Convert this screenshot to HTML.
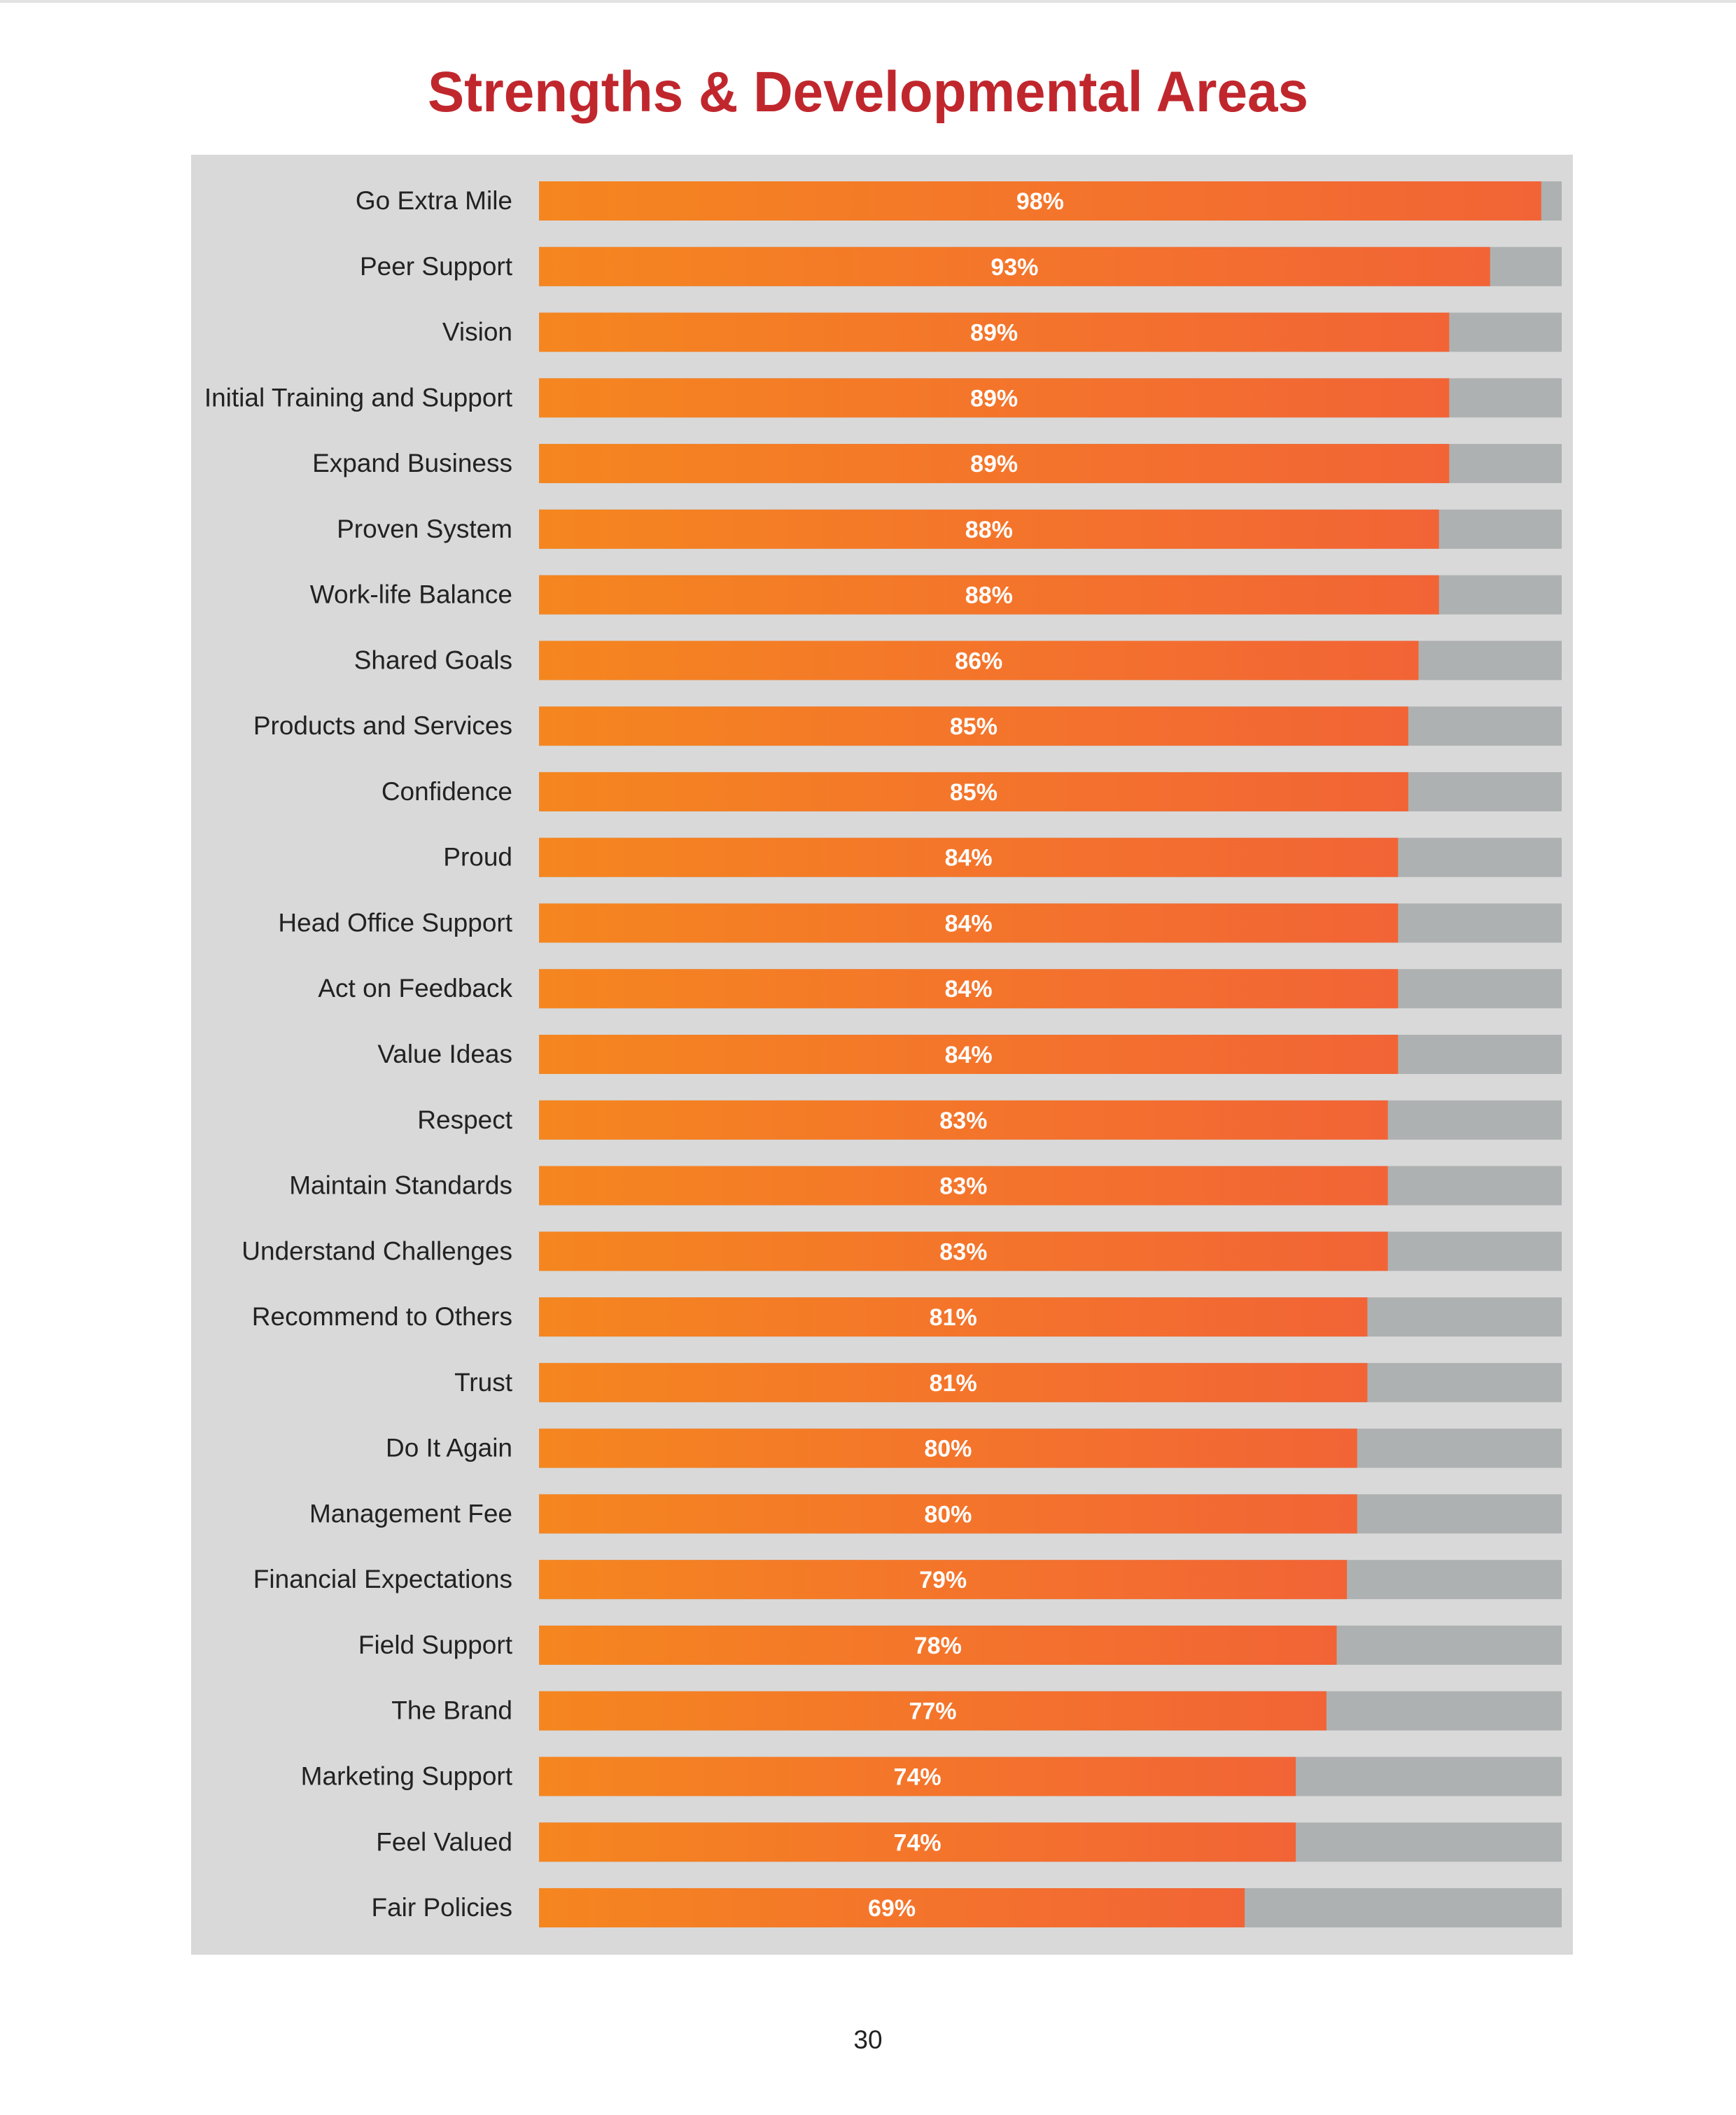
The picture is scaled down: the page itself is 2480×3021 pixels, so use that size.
<!DOCTYPE html>
<html><head><meta charset="utf-8">
<style>
html,body{margin:0;padding:0;background:#fff;}
body{width:2480px;height:3021px;position:relative;overflow:hidden;font-family:"Liberation Sans",sans-serif;}
</style></head>
<body>
<div style="position:absolute;left:0;top:0;width:2480px;height:4px;background:#e2e2e2"></div>
<svg width="2480" height="3021" style="position:absolute;left:0;top:0">
<defs>
<linearGradient id="og" x1="0" x2="1" y1="0" y2="0">
<stop offset="0" stop-color="#f5861f"/><stop offset="1" stop-color="#f26436"/>
</linearGradient>
</defs>
<text x="1240" y="159" text-anchor="middle" font-family="Liberation Sans, sans-serif" font-weight="bold" font-size="82" fill="#c0272d" textLength="1258" lengthAdjust="spacingAndGlyphs">Strengths &amp; Developmental Areas</text>
<rect x="273" y="221" width="1974" height="2571" fill="#d9d9d9"/>
<g id="bars"></g>
<text x="1240" y="2926" text-anchor="middle" font-size="37" fill="#222">30</text>
</svg>
<script>
const categories = ["Go Extra Mile","Peer Support","Vision","Initial Training and Support","Expand Business","Proven System","Work-life Balance","Shared Goals","Products and Services","Confidence","Proud","Head Office Support","Act on Feedback","Value Ideas","Respect","Maintain Standards","Understand Challenges","Recommend to Others","Trust","Do It Again","Management Fee","Financial Expectations","Field Support","The Brand","Marketing Support","Feel Valued","Fair Policies"];
const values = [98,93,89,89,89,88,88,86,85,85,84,84,84,84,83,83,83,81,81,80,80,79,78,77,74,74,69];
const valueLabels = values.map(v => v + "%");

const NS = "http://www.w3.org/2000/svg";
const g = document.getElementById("bars");
const x0 = 770, trackW = 1461, barH = 56, y0 = 259, pitch = 93.77;
function xScale(v){ return x0 + trackW * v / 100; }
function yScale(i){ return y0 + pitch * i; }
function mk(tag, attrs){ const e = document.createElementNS(NS, tag); for (const k in attrs) e.setAttribute(k, attrs[k]); return e; }
categories.forEach((c, i) => {
  const y = yScale(i);
  const track = mk("rect", {x: x0, y: y, width: trackW, height: barH, fill: "#aeb1b1"});
  
  
  g.appendChild(track);
  const bar = mk("rect", {x: x0, y: y, width: xScale(values[i]) - x0, height: barH, fill: "url(#og)"});
  
  
  g.appendChild(bar);
  const lab = mk("text", {x: 732, y: y + barH/2 + 12, "text-anchor": "end", "font-size": "37", fill: "#222"});
  lab.textContent = c;
  
  
  g.appendChild(lab);
  const vl = mk("text", {x: (x0 + xScale(values[i])) / 2, y: y + barH/2 + 12, "text-anchor": "middle", "font-size": "34", "font-weight": "bold", fill: "#fff"});
  vl.textContent = valueLabels[i];
  
  
  g.appendChild(vl);
});
</script>
</body></html>
